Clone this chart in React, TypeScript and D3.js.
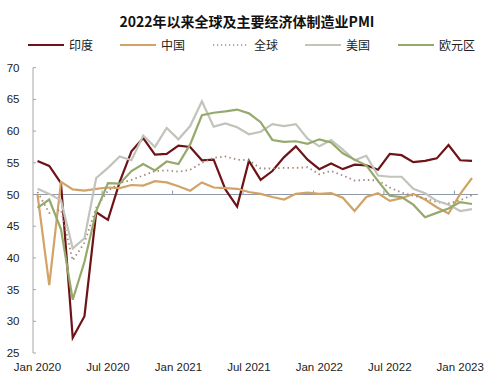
import React, { useEffect, useRef } from 'react';
import * as d3 from 'd3';

const months: string[] = [];
for (let yr = 2020; yr <= 2023; yr++) {
  ['Jan', 'Feb', 'Mar', 'Apr', 'May', 'Jun', 'Jul', 'Aug', 'Sep', 'Oct', 'Nov', 'Dec'].forEach(m => months.push(`${m} ${yr}`));
}
const categories = months.slice(0, 38); // Jan 2020 .. Feb 2023

const india = [
  55.3, 54.5, 51.8, 27.4, 30.8, 47.2, 46.0, 52.0, 56.8, 58.9, 56.3, 56.4,
  57.7, 57.5, 55.4, 55.5, 50.8, 48.1, 55.3, 52.3, 53.7, 55.9, 57.6, 55.5,
  54.0, 54.9, 54.0, 54.7, 54.6, 53.9, 56.4, 56.2, 55.1, 55.3, 55.7, 57.8,
  55.4, 55.3,
];
const china = [
  50.0, 35.7, 52.0, 50.8, 50.6, 50.9, 51.1, 51.0, 51.5, 51.4, 52.1, 51.9,
  51.3, 50.6, 51.9, 51.1, 51.0, 50.9, 50.4, 50.1, 49.6, 49.2, 50.1, 50.3,
  50.1, 50.2, 49.5, 47.4, 49.6, 50.2, 49.0, 49.4, 50.1, 49.2, 48.0, 47.0,
  50.1, 52.6,
];
const globalPmi = [
  50.4, 47.1, 47.6, 39.6, 42.4, 47.9, 50.6, 51.8, 52.3, 53.0, 53.7, 53.8,
  53.6, 53.9, 55.0, 55.8, 56.0, 55.5, 55.4, 54.1, 54.1, 54.2, 54.2, 54.3,
  53.2, 53.7, 53.0, 52.2, 52.3, 52.2, 51.1, 50.3, 49.8, 49.4, 48.8, 48.6,
  49.1, 49.9,
];
const usa = [
  50.9, 50.1, 49.1, 41.5, 43.1, 52.6, 54.2, 56.0, 55.4, 59.3, 57.5, 60.5,
  58.7, 60.8, 64.7, 60.7, 61.2, 60.6, 59.5, 59.9, 61.1, 60.8, 61.1, 58.8,
  57.6, 58.6, 57.1, 55.4, 56.1, 53.0, 52.8, 52.8, 50.9, 50.2, 49.0, 48.4,
  47.4, 47.7,
];
const euro = [
  47.9, 49.2, 44.5, 33.4, 39.4, 47.4, 51.8, 51.7, 53.7, 54.8, 53.8, 55.2,
  54.8, 57.9, 62.5, 62.9, 63.1, 63.4, 62.8, 61.4, 58.6, 58.3, 58.4, 58.0,
  58.7, 58.2, 56.5, 55.5, 54.6, 52.1, 49.8, 49.6, 48.4, 46.4, 47.1, 47.8,
  48.8, 48.5,
];

const seriesNames = ['印度', '中国', '全球', '美国', '欧元区'];
const seriesValues = [india, china, globalPmi, usa, euro];
const seriesColors = ['#6e1318', '#d2a266', '#a48a7c', '#c2c3bb', '#96a96c'];
const yTicks = [25, 30, 35, 40, 45, 50, 55, 60, 65, 70];
const xLabelIdx = [0, 6, 12, 18, 24, 30, 36];
const legendX = [28, 120, 213, 305, 398];

const W = 500;
const H = 387;

export default function App() {
  const ref = useRef<SVGSVGElement>(null);

  useEffect(() => {
    if (!ref.current) return;
    const svg = d3.select(ref.current);
    svg.selectAll('*').remove();
    const font = "'Liberation Sans', Arial, sans-serif";
    const cjk = "'Noto Sans CJK SC', 'Liberation Sans', sans-serif";

    const x = d3.scaleLinear().domain([0, categories.length - 1]).range([37.5, 472]);
    const y = d3.scaleLinear().domain([25, 70]).range([353, 67.7]);

    // title
    svg.append('text')
      .attr('x', 247).attr('y', 27)
      .attr('text-anchor', 'middle')
      .attr('font-family', cjk)
      .attr('font-weight', 'bold')
      .attr('font-size', 14)
      .attr('fill', '#111')
      .text('2022年以来全球及主要经济体制造业PMI');

    // legend
    seriesNames.forEach((name, i) => {
      const lx = legendX[i];
      svg.append('line')
        .attr('x1', lx).attr('x2', lx + 36)
        .attr('y1', 45).attr('y2', 45)
        .attr('stroke', seriesColors[i])
        .attr('stroke-width', i === 2 ? 1.5 : 2)
        .attr('stroke-dasharray', i === 2 ? '1.2,2.8' : null);
      svg.append('text')
        .attr('x', lx + 41).attr('y', 49.5)
        .attr('font-family', cjk)
        .attr('font-size', 12)
        .attr('fill', '#222')
        .text(name);
    });

    // y axis
    svg.append('line')
      .attr('x1', 33).attr('x2', 33)
      .attr('y1', y(70)).attr('y2', y(25))
      .attr('stroke', '#a6a6a6').attr('stroke-width', 1);
    yTicks.forEach(t => {
      svg.append('line')
        .attr('x1', 33).attr('x2', 36)
        .attr('y1', y(t)).attr('y2', y(t))
        .attr('stroke', '#a6a6a6');
      svg.append('text')
        .attr('x', 19.5).attr('y', y(t) + 4)
        .attr('text-anchor', 'end')
        .attr('font-family', font)
        .attr('font-size', 11.5)
        .attr('fill', '#222')
        .text(t);
    });

    // x axis line at 50
    svg.append('line')
      .attr('x1', 33).attr('x2', x(categories.length - 1) + 6)
      .attr('y1', y(50)).attr('y2', y(50))
      .attr('stroke', '#8e99aa').attr('stroke-width', 1);
    xLabelIdx.slice(1).forEach(i => {
      svg.append('line')
        .attr('x1', x(i - 0.5)).attr('x2', x(i - 0.5))
        .attr('y1', y(50)).attr('y2', y(50) - 4)
        .attr('stroke', '#8e99aa');
    });
    xLabelIdx.forEach(i => {
      svg.append('text')
        .attr('x', x(i)).attr('y', 371)
        .attr('text-anchor', 'middle')
        .attr('font-family', font)
        .attr('font-size', 11.5)
        .attr('fill', '#222')
        .text(categories[i]);
    });

    // lines
    const line = d3.line<number>()
      .x((_, i) => x(i))
      .y(d => y(d));
    seriesValues.forEach((vals, i) => {
      svg.append('path')
        .datum(vals)
        .attr('d', line)
        .attr('fill', 'none')
        .attr('stroke', seriesColors[i])
        .attr('stroke-width', i === 2 ? 1.8 : 2.2)
        .attr('stroke-linejoin', 'miter')
        .attr('stroke-dasharray', i === 2 ? '1.5,3.2' : null);
    });
  }, []);

  return (
    <svg
      ref={ref}
      width={W}
      height={H}
      style={{ position: 'absolute', left: 0, top: 0, background: '#fff' }}
    />
  );
}
